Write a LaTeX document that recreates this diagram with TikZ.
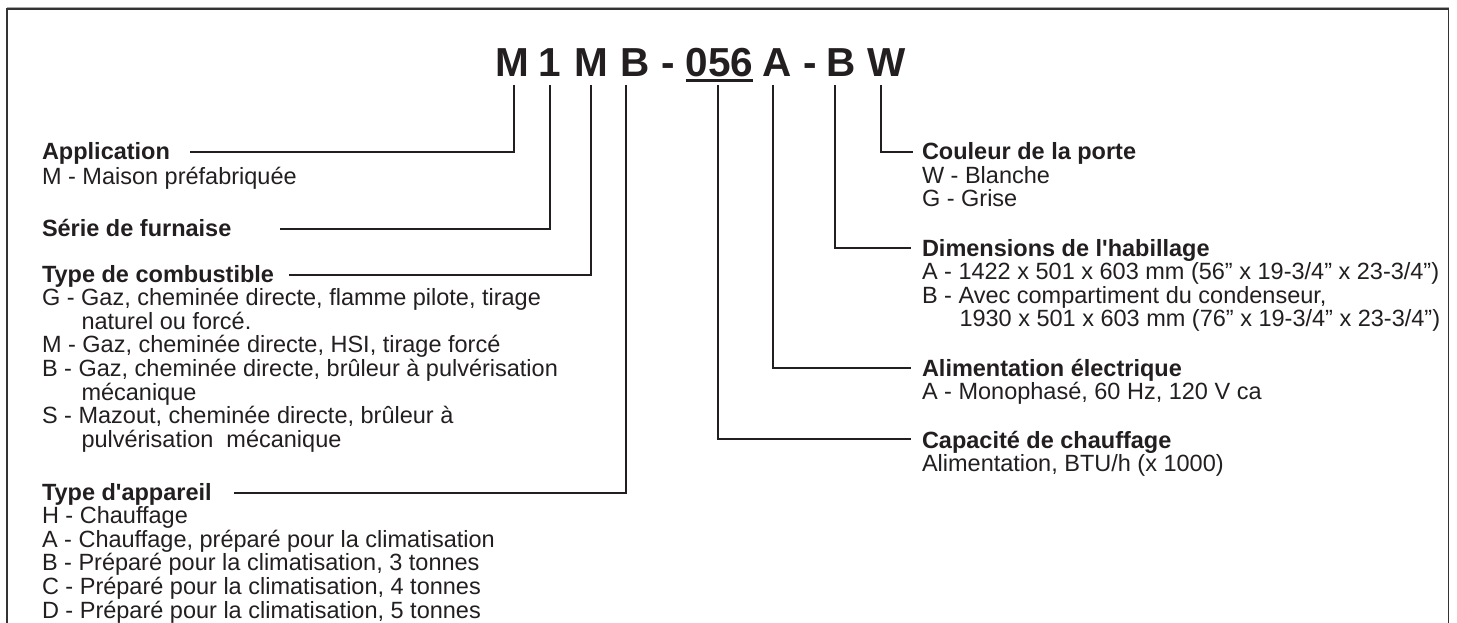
\documentclass[tikz,border=0pt]{standalone}
\usepackage{fontspec}
\setmainfont{Liberation Sans}
\definecolor{ink}{HTML}{231F20}
\definecolor{framedark}{HTML}{333333}
\definecolor{framelight}{HTML}{A8A8A8}
\begin{document}
\begin{tikzpicture}[x=1pt,y=-1pt,
  txt/.style={anchor=base west,inner sep=0pt,outer sep=0pt,text=ink,font=\fontsize{23.5}{23.5}\selectfont},
  head/.style={anchor=base west,inner sep=0pt,outer sep=0pt,text=ink,font=\fontsize{23.5}{23.5}\selectfont\bfseries},
  code/.style={anchor=base,inner sep=0pt,outer sep=0pt,text=ink,font=\fontsize{40.5}{40.5}\selectfont\bfseries},
  lead/.style={draw=ink,line width=2pt},
]
\useasboundingbox (0,0) rectangle (1457,623);
\fill[white] (0,0) rectangle (1457,623);
% frame
\draw[framelight,line width=1pt] (7,7.6) -- (1448.5,7.6);
\draw[framedark,line width=1.5pt] (7,640) -- (7,9) -- (1448.5,9) -- (1448.5,640);

% model code
\node[code] (m1) at (512.5,77) {M};
\node[code] (n1) at (549.5,77) {1};
\node[code] (m2) at (591.5,77) {M};
\node[code] (b1) at (635,77) {B};
\node[code] (h1) at (668.5,77) {-};
\node[code] (n056) at (719.5,77) {056};
\node[code] (a1) at (777.5,77) {A};
\node[code] (h2) at (810,77) {-};
\node[code] (b2) at (841.5,77) {B};
\node[code] (w1) at (886.5,77) {W};
\draw[ink,line width=2.5pt] ([yshift=-3.5pt]n056.base west) -- ([yshift=-3.5pt]n056.base east);

\coordinate (vM1) at (514,85);
\coordinate (v1) at (550,85);
\coordinate (vM2) at (591,85);
\coordinate (vB1) at (626,85);
\coordinate (v056) at (717.5,85);
\coordinate (vA) at (772.5,85);
\coordinate (vB2) at (835,85);
\coordinate (vW) at (881,85);

% left column
\node[head] (app) at (42,160) {Application};
\node[txt] (app1) at (42,184) {M - Maison préfabriquée};
\node[head] (ser) at (42,236.5) {Série de furnaise};
\node[head] (comb) at (42,282) {Type de combustible};
\node[txt] (comb1) at (42,305.6) {G - Gaz, cheminée directe, flamme pilote, tirage};
\node[txt] (comb2) at (81.5,329.2) {naturel ou forcé.};
\node[txt] (comb3) at (42,352.8) {M - Gaz, cheminée directe, HSI, tirage forcé};
\node[txt] (comb4) at (42,376.4) {B - Gaz, cheminée directe, brûleur à pulvérisation};
\node[txt] (comb5) at (81.5,400) {mécanique};
\node[txt] (comb6) at (42,423.6) {S - Mazout, cheminée directe, brûleur à};
\node[txt] (comb7) at (81.5,447.2) {pulvérisation\ \ mécanique};
\node[head] (typ) at (42,500) {Type d\textquotesingle appareil};
\node[txt] (typ1) at (42,523.6) {H - Chauffage};
\node[txt] (typ2) at (42,547.2) {A - Chauffage, préparé pour la climatisation};
\node[txt] (typ3) at (42,570.8) {B - Préparé pour la climatisation, 3 tonnes};
\node[txt] (typ4) at (42,594.4) {C - Préparé pour la climatisation, 4 tonnes};
\node[txt] (typ5) at (42,618) {D - Préparé pour la climatisation, 5 tonnes};

% right column
\node[head] (coul) at (922,160) {Couleur de la porte};
\node[txt] (coul1) at (922,183.5) {W - Blanche};
\node[txt] (coul2) at (922,207) {G - Grise};
\node[head] (dim) at (922,256) {Dimensions de l\textquotesingle habillage};
\node[txt] (dim1) at (922,279.5) {A - 1422 x 501 x 603 mm (56” x 19-3/4” x 23-3/4”)};
\node[txt] (dim2) at (922,303) {B - Avec compartiment du condenseur,};
\node[txt] (dim3) at (959.5,326.5) {1930 x 501 x 603 mm (76” x 19-3/4” x 23-3/4”)};
\node[head] (ali) at (922,376) {Alimentation électrique};
\node[txt] (ali1) at (922,399.5) {A - Monophasé, 60 Hz, 120 V ca};
\node[head] (cap) at (922,448) {Capacité de chauffage};
\node[txt] (cap1) at (922,471.5) {Alimentation, BTU/h (x 1000)};

% leaders
\draw[lead] (vM1) |- ([xshift=20pt,yshift=7.5pt]app.base east);
\draw[lead] (v1) |- ([xshift=49pt,yshift=7.5pt]ser.base east);
\draw[lead] (vM2) |- ([xshift=15pt,yshift=7.5pt]comb.base east);
\draw[lead] (vB1) |- ([xshift=22pt,yshift=7.5pt]typ.base east);
\draw[lead] (vW) |- ([xshift=-9pt,yshift=8pt]coul.base west);
\draw[lead] (vB2) |- ([xshift=-11pt,yshift=8pt]dim.base west);
\draw[lead] (vA) |- ([xshift=-11pt,yshift=8pt]ali.base west);
\draw[lead] (v056) |- ([xshift=-11pt,yshift=9pt]cap.base west);
\end{tikzpicture}
\end{document}
